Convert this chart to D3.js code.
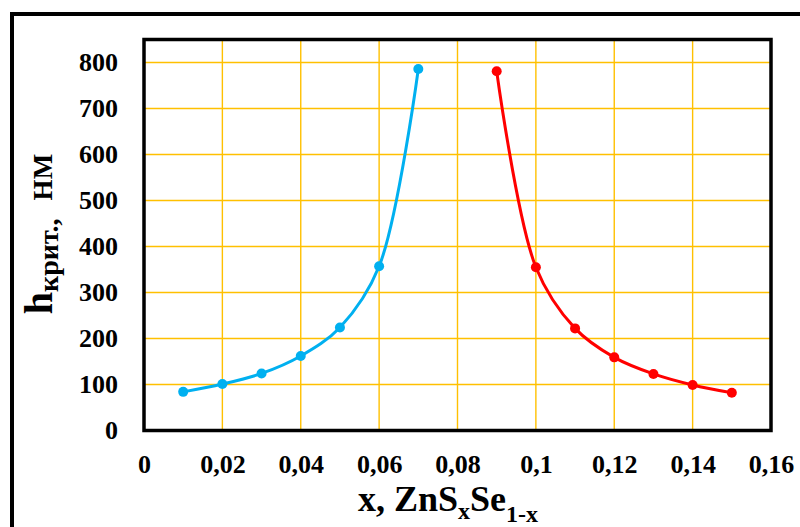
<!DOCTYPE html>
<html>
<head>
<meta charset="utf-8">
<script src="https://cdn.jsdelivr.net/npm/d3@7"></script>
<style>
  html, body { margin: 0; padding: 0; background: #fff; }
  svg { display: block; }
</style>
</head>
<body>
<svg id="chart" width="800" height="527"></svg>
<script>
// Critical thickness of ZnS(x)Se(1-x) layers vs. composition x
const xLeft = [0.01, 0.02, 0.03, 0.04, 0.05, 0.06, 0.07];
const hLeft = [84, 101, 124, 162, 224, 357, 786];
const xRight = [0.09, 0.10, 0.11, 0.12, 0.13, 0.14, 0.15];
const hRight = [781, 355, 222, 159, 123, 99, 82];
const xTicks = [0, 0.02, 0.04, 0.06, 0.08, 0.1, 0.12, 0.14, 0.16];
const xTickLabels = ["0", "0,02", "0,04", "0,06", "0,08", "0,1", "0,12", "0,14", "0,16"];
const yTicks = [0, 100, 200, 300, 400, 500, 600, 700, 800];

const FONT = "Liberation Serif";

const svg = d3.select("#chart");
const plot = { left: 144, right: 771, top: 39.5, bottom: 430.5 };

const x = d3.scaleLinear().domain([0, 0.16]).range([plot.left, plot.right]);
const y = d3.scaleLinear().domain([0, 850]).range([plot.bottom, plot.top]);

// outer frame (runs off the right and bottom edges)
svg.append("rect")
  .attr("x", 12).attr("y", 14).attr("width", 820).attr("height", 560)
  .attr("fill", "none").attr("stroke", "#000").attr("stroke-width", 4);

// gridlines
const grid = svg.append("g").attr("stroke", "#FFC000").attr("stroke-width", 1.4);
grid.selectAll("line.h").data(yTicks.filter(d => d > 0)).join("line")
  .attr("x1", plot.left).attr("x2", plot.right)
  .attr("y1", d => y(d)).attr("y2", d => y(d));
grid.selectAll("line.v").data(xTicks.filter(d => d > 0 && d < 0.16)).join("line")
  .attr("y1", plot.top).attr("y2", plot.bottom)
  .attr("x1", d => x(d)).attr("x2", d => x(d));

// plot border
svg.append("rect")
  .attr("x", plot.left).attr("y", plot.top)
  .attr("width", plot.right - plot.left).attr("height", plot.bottom - plot.top)
  .attr("fill", "none").attr("stroke", "#000").attr("stroke-width", 3.5);

function styleTicks(g) {
  g.select(".domain").remove();
  g.attr("font-family", FONT).attr("font-size", 26).attr("font-weight", "bold");
  g.selectAll("text").attr("fill", "#000")
    .attr("font-family", FONT).attr("font-weight", "bold").attr("font-size", 26);
}

// axes (labels only)
const yAxis = d3.axisLeft(y).tickValues(yTicks).tickSize(0).tickPadding(26);
svg.append("g").attr("transform", `translate(${plot.left},0)`).call(yAxis).call(styleTicks);

const xAxis = d3.axisBottom(x).tickValues(xTicks).tickSize(0).tickPadding(24)
  .tickFormat((d, i) => xTickLabels[i]);
svg.append("g").attr("transform", `translate(0,${plot.bottom})`).call(xAxis).call(styleTicks);

// series
function drawSeries(xs, hs, color) {
  const pts = xs.map((d, i) => [d, hs[i]]);
  const line = d3.line().x(d => x(d[0])).y(d => y(d[1])).curve(d3.curveCatmullRom.alpha(0.5));
  svg.append("path").datum(pts).attr("d", line)
    .attr("fill", "none").attr("stroke", color).attr("stroke-width", 3);
  svg.append("g").selectAll("circle").data(pts).join("circle")
    .attr("cx", d => x(d[0])).attr("cy", d => y(d[1])).attr("r", 5).attr("fill", color);
}
drawSeries(xLeft, hLeft, "#00B0F0");
drawSeries(xRight, hRight, "#FF0000");

// y axis title
const yt = svg.append("text")
  .attr("transform", `translate(52,234) rotate(-90)`)
  .attr("text-anchor", "middle")
  .attr("font-family", FONT).attr("font-weight", "bold").attr("fill", "#000");
yt.append("tspan").attr("font-size", 40).text("h");
yt.append("tspan").attr("font-size", 28).attr("dy", 6).text("крит.,");
yt.append("tspan").attr("font-size", 27).attr("dy", -6).attr("dx", 18).text("НМ");

// x axis title
const xt = svg.append("text").attr("x", 358).attr("y", 511)
  .attr("font-family", FONT).attr("font-weight", "bold").attr("fill", "#000");
xt.append("tspan").attr("font-size", 36).text("x, ZnS");
xt.append("tspan").attr("font-size", 24).attr("dy", 8).text("x");
xt.append("tspan").attr("font-size", 36).attr("dy", -8).text("Se");
xt.append("tspan").attr("font-size", 24).attr("dy", 11).text("1-x");
</script>
</body>
</html>
